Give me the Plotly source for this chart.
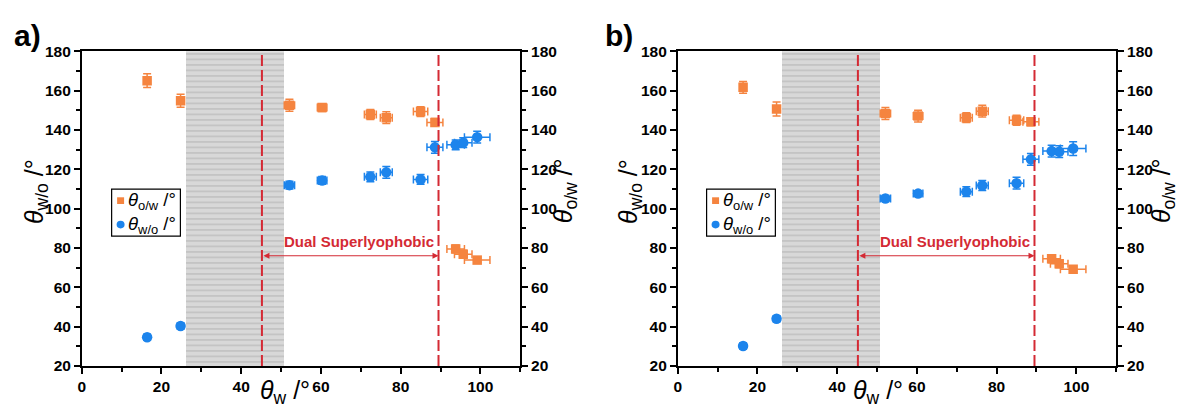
import plotly.graph_objects as go

# ---------------- data ----------------
theta_w = [16.4, 24.8, 52.1, 60.3, 72.4, 76.4, 85.0, 88.6, 93.8, 95.7, 99.2]
theta_w_err = [0.5, 0.5, 1.3, 1.2, 1.5, 1.5, 1.8, 2.0, 2.2, 2.2, 3.2]

a_ow = [165.0, 154.8, 152.5, 151.3, 147.8, 146.2, 149.3, 143.8, 79.5, 76.8, 73.8]
a_ow_err = [3.5, 3.3, 3.0, 2.0, 2.5, 3.0, 2.5, 2.0, 2.0, 2.0, 1.5]
a_wo = [34.6, 40.3, 111.9, 114.3, 116.1, 118.4, 114.8, 131.1, 132.4, 133.5, 136.3]
a_wo_err = [1.5, 1.5, 2.0, 2.0, 2.5, 3.0, 2.5, 3.0, 2.5, 2.5, 3.0]

b_ow = [161.6, 150.6, 148.3, 147.0, 146.2, 149.5, 144.9, 144.1, 74.5, 71.9, 69.1]
b_ow_err = [3.0, 3.5, 3.0, 3.0, 2.5, 3.0, 2.5, 2.0, 2.0, 2.0, 1.5]
b_wo = [30.1, 44.0, 105.1, 107.6, 108.6, 111.7, 112.9, 125.0, 129.2, 128.9, 130.5]
b_wo_err = [1.5, 1.5, 1.5, 1.5, 2.5, 2.5, 3.0, 3.0, 3.0, 3.0, 3.5]

x_ticks = [0, 20, 40, 60, 80, 100]
y_ticks = [20, 40, 60, 80, 100, 120, 140, 160, 180]

shade_range = [26.0, 50.7]
dual_lines = [45.2, 89.5]
arrow_y = 76.0
label_y = 83.0
label_x = 69.5
panel_labels = ["a)", "b)"]
band_label = "Dual Superlyophobic"
legend_names = ["<i>θ</i><sub>o/w</sub> /°", "<i>θ</i><sub>w/o</sub> /°"]

ORANGE = "#F5843F"
BLUE = "#1C84EC"
RED = "#D42A34"
FONT = "Arial, Liberation Sans, sans-serif"

W, H = 1178, 407
def px_x(p):
    return p / W
def px_y(p):
    return 1 - p / H

fig = go.Figure()

panels = [
    dict(xa="x", ya="y", ow=a_ow, owe=a_ow_err, wo=a_wo, woe=a_wo_err, off=0),
    dict(xa="x2", ya="y3", ow=b_ow, owe=b_ow_err, wo=b_wo, woe=b_wo_err, off=597),
]

for p in panels:
    fig.add_trace(go.Bar(
        x=[(shade_range[0] + shade_range[1]) / 2], y=[160], base=[20],
        width=[shade_range[1] - shade_range[0]],
        marker=dict(color="#D8D8D8", line=dict(width=0),
                    pattern=dict(shape="-", fgcolor="#999999", bgcolor="#D8D8D8", size=5.5, solidity=0.22)),
        xaxis=p["xa"], yaxis=p["ya"], showlegend=False, hoverinfo="skip"))
    fig.add_trace(go.Scatter(
        x=theta_w, y=p["ow"], mode="markers", name=legend_names[0],
        marker=dict(symbol="square", size=9.5, color=ORANGE),
        error_y=dict(type="data", array=p["owe"], color=ORANGE, thickness=1.5, width=4),
        error_x=dict(type="data", array=theta_w_err, color=ORANGE, thickness=1.5, width=4),
        xaxis=p["xa"], yaxis=p["ya"], showlegend=False))
    fig.add_trace(go.Scatter(
        x=theta_w, y=p["wo"], mode="markers", name=legend_names[1],
        marker=dict(symbol="circle", size=10.5, color=BLUE),
        error_y=dict(type="data", array=p["woe"], color=BLUE, thickness=1.5, width=4),
        error_x=dict(type="data", array=theta_w_err, color=BLUE, thickness=1.5, width=4),
        xaxis=p["xa"], yaxis=p["ya"], showlegend=False))
    for xv in dual_lines:
        fig.add_shape(type="line", xref=p["xa"], yref=p["ya"] + " domain",
                      x0=xv, x1=xv, y0=0, y1=1,
                      line=dict(color=RED, width=2, dash="11px,4px"))
    fig.add_annotation(xref=p["xa"], yref=p["ya"], axref=p["xa"], ayref=p["ya"],
                       x=dual_lines[1], y=arrow_y, ax=dual_lines[0], ay=arrow_y,
                       text="", showarrow=True, arrowhead=2, arrowside="end+start",
                       arrowsize=1, arrowwidth=1.2, arrowcolor=RED, startarrowhead=2, startarrowsize=1)
    fig.add_annotation(xref=p["xa"], yref=p["ya"], x=label_x, y=label_y,
                       text="<b>" + band_label + "</b>", showarrow=False,
                       font=dict(family=FONT, size=15, color=RED))

    # manual legend
    o = p["off"]
    fig.add_shape(type="rect", xref="paper", yref="paper",
                  x0=px_x(108 + o), x1=px_x(177 + o), y0=px_y(237), y1=px_y(188),
                  line=dict(color="black", width=1.2), fillcolor="white", layer="above")
    fig.add_shape(type="rect", xref="paper", yref="paper",
                  x0=px_x(113.5 + o), x1=px_x(120.5 + o), y0=px_y(203.5), y1=px_y(196.5),
                  line=dict(width=0), fillcolor=ORANGE, layer="above")
    fig.add_shape(type="circle", xref="paper", yref="paper",
                  x0=px_x(113 + o), x1=px_x(121 + o), y0=px_y(229), y1=px_y(221),
                  line=dict(width=0), fillcolor=BLUE, layer="above")
    for name, yc in zip(legend_names, [200, 225]):
        fig.add_annotation(xref="paper", yref="paper", x=px_x(122 + o), y=px_y(yc),
                           text=name, showarrow=False, xanchor="left", yanchor="middle",
                           font=dict(family=FONT, size=18.5, color="black"))

def bold(vals):
    return ["<b>%d</b>" % v for v in vals]

axis_common = dict(showline=True, linecolor="black", linewidth=1.5, ticks="outside",
                   ticklen=6, tickwidth=1.5, tickcolor="black", showgrid=False, zeroline=False,
                   tickfont=dict(family=FONT, size=15.5, color="black"))
x_common = dict(axis_common, range=[0, 110], tickmode="array", tickvals=x_ticks, ticktext=bold(x_ticks),
                mirror=True, minor=dict(ticks="outside", tickvals=[10, 30, 50, 70, 90, 110], ticklen=4, tickwidth=1.5, tickcolor="black"))
y_common = dict(axis_common, range=[20, 180], tickmode="array", tickvals=y_ticks, ticktext=bold(y_ticks),
                minor=dict(ticks="outside", tickvals=list(range(30, 180, 20)), ticklen=4, tickwidth=1.5, tickcolor="black"))

dom_a = [px_x(78), px_x(518)]
dom_b = [px_x(676), px_x(1116)]
dom_y = [px_y(372.5), px_y(44)]

fig.update_layout(
    width=W, height=H, margin=dict(l=0, r=0, t=0, b=0),
    paper_bgcolor="white", plot_bgcolor="white", bargap=0, showlegend=False,
    xaxis=dict(x_common, domain=dom_a, anchor="y"),
    yaxis=dict(y_common, domain=dom_y, anchor="x"),
    yaxis2=dict(y_common, overlaying="y", side="right", anchor="x"),
    xaxis2=dict(x_common, domain=dom_b, anchor="y3"),
    yaxis3=dict(y_common, domain=dom_y, anchor="x2"),
    yaxis4=dict(y_common, overlaying="y3", side="right", anchor="x2"),
)

fig.add_trace(go.Scatter(x=[None], y=[None], xaxis="x", yaxis="y2", showlegend=False))
fig.add_trace(go.Scatter(x=[None], y=[None], xaxis="x2", yaxis="y4", showlegend=False))

title_font = dict(family=FONT, size=25, color="black")
for lx, cx, rx in [(32, 282, 563), (628, 877, 1163)]:
    fig.add_annotation(xref="paper", yref="paper", x=px_x(lx), y=px_y(190),
                       text="<i>θ</i><sub>w/o</sub> /°", textangle=-90, showarrow=False,
                       font=title_font, xanchor="center", yanchor="middle")
    fig.add_annotation(xref="paper", yref="paper", x=px_x(rx), y=px_y(190),
                       text="<i>θ</i><sub>o/w</sub> /°", textangle=-90, showarrow=False,
                       font=title_font, xanchor="center", yanchor="middle")
    fig.add_annotation(xref="paper", yref="paper", x=px_x(cx), y=px_y(381),
                       text="<i>θ</i><sub>w</sub> /°", showarrow=False,
                       font=title_font, xanchor="center", yanchor="top")

for lbl, x in zip(panel_labels, [24, 617]):
    fig.add_annotation(xref="paper", yref="paper", x=px_x(x), y=px_y(28),
                       text="<b>" + lbl + "</b>", showarrow=False,
                       font=dict(family=FONT, size=30, color="black"),
                       xanchor="center", yanchor="middle")

fig.write_html("out.html")
